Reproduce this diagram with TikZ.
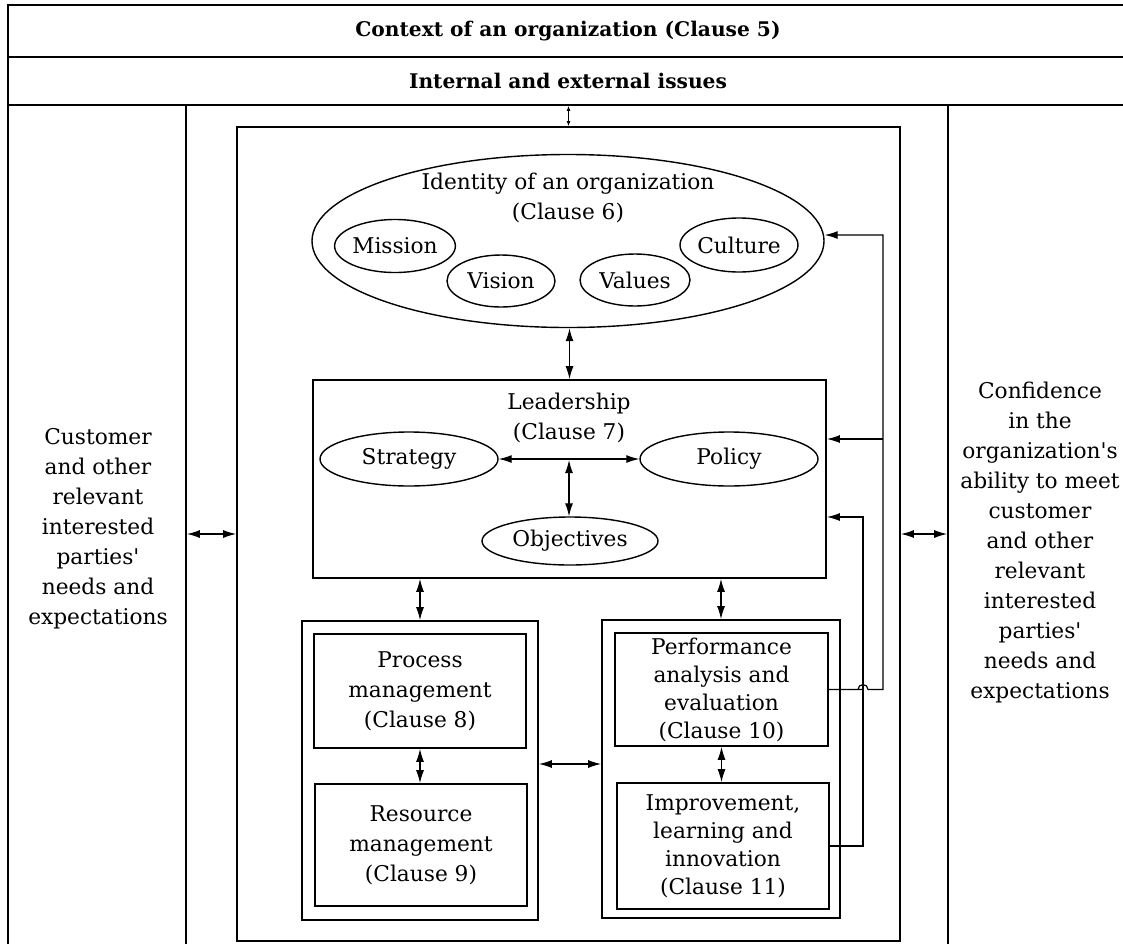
\documentclass[tikz,border=0pt]{standalone}
\usepackage{fontspec}
\setmainfont{DejaVu Serif}
\usetikzlibrary{arrows.meta,shapes.geometric,calc}
\newcommand{\apos}{\textquotesingle}
\begin{document}
\begin{tikzpicture}[x=1pt,y=-1pt,
  box/.style={draw,line width=1.7pt,rectangle,inner sep=0pt},
  oval/.style={draw,line width=1.4pt,ellipse,inner sep=0pt},
  txt/.style={align=center,font=\fontsize{21.7}{30}\selectfont},
  hdr/.style={align=center,font=\bfseries\fontsize{20.2}{30}\selectfont},
  dbl/.style={line width=1.2pt,{Latex[length=13pt,width=8pt]}-{Latex[length=13pt,width=8pt]}},
  sdbl/.style={line width=1pt,{Latex[length=5pt,width=4pt]}-{Latex[length=5pt,width=4pt]}},
  fb/.style={line width=1.2pt,-{Latex[length=13pt,width=8pt]}}]
\useasboundingbox (0,0) rectangle (1123,943);
\clip (0,0) rectangle (1123,943);
\fill[white] (0,0) rectangle (1123,943);

% outer frame
\node[box,minimum width=1120pt,minimum height=52pt,hdr] (h1) at (568,31) {Context of an organization (Clause 5)};
\node[box,minimum width=1120pt,minimum height=48pt,hdr] (h2) at (568,81) {Internal and external issues};
\node[box,minimum width=178pt,minimum height=842pt] (leftcol) at (97,526) {};
\node[box,minimum width=180pt,minimum height=842pt] (rightcol) at (1038,526) {};
\node[txt] (lefttext) at (98,529) {Customer\\and other\\relevant\\interested\\parties\apos\\needs and\\expectations};
\node[txt] (righttext) at (1040,542) {Confidence\\in the\\organization\apos s\\ability to meet\\customer\\and other\\relevant\\interested\\parties\apos\\needs and\\expectations};

% organization box
\node[box,minimum width=663pt,minimum height=814pt] (org) at (568.5,534) {};

% identity
\node[oval,minimum width=512pt,minimum height=173pt] (identity) at (568,241) {};
\node[txt] (idtext) at (568,198) {Identity of an organization\\(Clause 6)};
\node[oval,minimum width=108pt,minimum height=53pt,txt] (mission) at (395,246) {Mission};
\node[oval,minimum width=108pt,minimum height=52pt,txt] (vision) at (501,281) {Vision};
\node[oval,minimum width=110pt,minimum height=52pt,txt] (values) at (635,280) {Values};
\node[oval,minimum width=109pt,minimum height=54pt,txt] (culture) at (739,245) {Culture};

% leadership
\node[box,minimum width=513pt,minimum height=198pt] (leader) at (569.5,479) {};
\node[txt] (leadtext) at (569,418) {Leadership\\(Clause 7)};
\node[oval,minimum width=178pt,minimum height=54pt,txt] (strategy) at (409,459) {Strategy};
\node[oval,minimum width=178pt,minimum height=54pt,txt] (policy) at (729,459) {Policy};
\node[oval,minimum width=176pt,minimum height=48pt,txt] (objectives) at (570,541) {Objectives};
\coordinate (mid) at (569,460);

% lower groups
\node[box,minimum width=236pt,minimum height=299pt] (lgroup) at (420,770.5) {};
\node[box,minimum width=212pt,minimum height=114pt,txt] (process) at (420,691) {Process\\management\\(Clause 8)};
\node[box,minimum width=212pt,minimum height=122pt,txt] (resource) at (421,845) {Resource\\management\\(Clause 9)};
\node[box,minimum width=238pt,minimum height=298pt] (rgroup) at (721,769) {};
\node[box,minimum width=213pt,minimum height=113pt,txt,font=\fontsize{21.7}{28}\selectfont] (perf) at (721.5,689.5) {Performance\\analysis and\\evaluation\\(Clause 10)};
\node[box,minimum width=212pt,minimum height=126pt,txt,font=\fontsize{21.7}{28}\selectfont] (impr) at (723,846) {Improvement,\\learning and\\innovation\\(Clause 11)};

% connectors
\draw[sdbl] (h2.south -| org.north) -- (org.north);
\draw[dbl] (leftcol.east |- org.west) -- (org.west);
\draw[dbl] (org.east) -- (rightcol.west |- org.east);
\draw[dbl] (identity.south -| leader.north) -- (leader.north);
\draw[dbl] (strategy.east) -- (policy.west);
\draw[dbl] (mid) -- (objectives.north -| mid);
\draw[dbl] (leader.south -| lgroup.north) -- (lgroup.north);
\draw[dbl] (leader.south -| rgroup.north) -- (rgroup.north);
\draw[dbl] (process.south) -- (resource.north -| process.south);
\draw[dbl] (perf.south) -- (impr.north -| perf.south);
\draw[dbl] (lgroup.east |- 0,764) -- (rgroup.west |- 0,764);

% feedback loops
\coordinate (aMid) at (883,439);
\coordinate (bTop) at (863,517);
\draw[fb] (perf.east) -- (bTop |- perf.east) ++(-5,0)
  arc[start angle=180,end angle=0,radius=5pt] -- (aMid |- perf.east)
  -- (aMid) |- ([yshift=6pt]identity.east);
\draw[fb] (aMid) -- (leader.east |- aMid);
\draw[fb] (impr.east) -| (bTop) -- (leader.east |- bTop);
\end{tikzpicture}
\end{document}
